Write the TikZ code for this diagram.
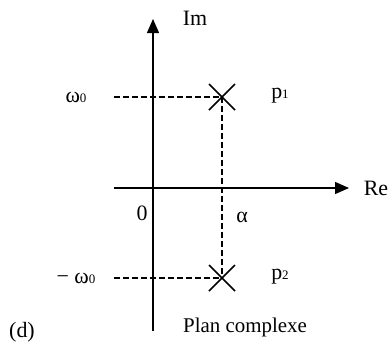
\documentclass[tikz,border=0pt]{standalone}
\usepackage{fontspec}
\setmainfont{Liberation Serif}
\usetikzlibrary{arrows.meta,calc}
\newcommand{\sm}[1]{{\fontsize{13}{13}\selectfont #1}}
\begin{document}
\begin{tikzpicture}[x=1bp,y=-1bp,
  axis/.style={line width=1.3bp,-{Triangle[length=14bp,width=12bp]}},
  guide/.style={line width=1.1bp,dash pattern=on 5.5bp off 3.5bp},
  pole/.style={line width=1.5bp},
  lbl/.style={font=\fontsize{22}{22}\selectfont,inner sep=0pt}]
\useasboundingbox (0,0) rectangle (390,346);
% coordinates
\coordinate (vb) at (153,331);
\coordinate (vt) at (153,19);
\coordinate (hl) at (114,188);
\coordinate (hr) at (349,188);
\coordinate (p1) at (222,97);
\coordinate (p2) at (222,278);
\coordinate (l1) at (114,97);
\coordinate (l2) at (114,278);
% axes
\draw[axis] (vb) -- (vt);
\draw[axis] (hl) -- (hr);
% guides
\draw[guide] (l1) -- (p1);
\draw[guide] (l2) -- (p2);
\draw[guide] (p1) -- (p2);
% poles
\foreach \p in {p1,p2}{
  \draw[pole] ($(\p)+(-13,-13)$) -- ($(\p)+(13,13)$);
  \draw[pole] ($(\p)+(-13,13)$) -- ($(\p)+(13,-13)$);
}
% labels
\node[lbl] (im) at (195,18) {Im};
\node[lbl] (re) at (376,188) {Re};
\node[lbl] (w0) at (76,97) {ω\sm{0}};
\node[lbl] (mw0) at (76,278) {− ω\sm{0}};
\node[lbl] (lp1) at (280,96) {p\sm{1}};
\node[lbl] (lp2) at (280,277) {p\sm{2}};
\node[lbl] (zero) at (142,213) {0};
\node[lbl] (alpha) at (242,217) {α};
\node[lbl] (d) at (22,332) {(d)};
\node[inner sep=0pt,font=\fontsize{21}{21}\selectfont] (plan) at (245,327) {Plan complexe};
\end{tikzpicture}
\end{document}
